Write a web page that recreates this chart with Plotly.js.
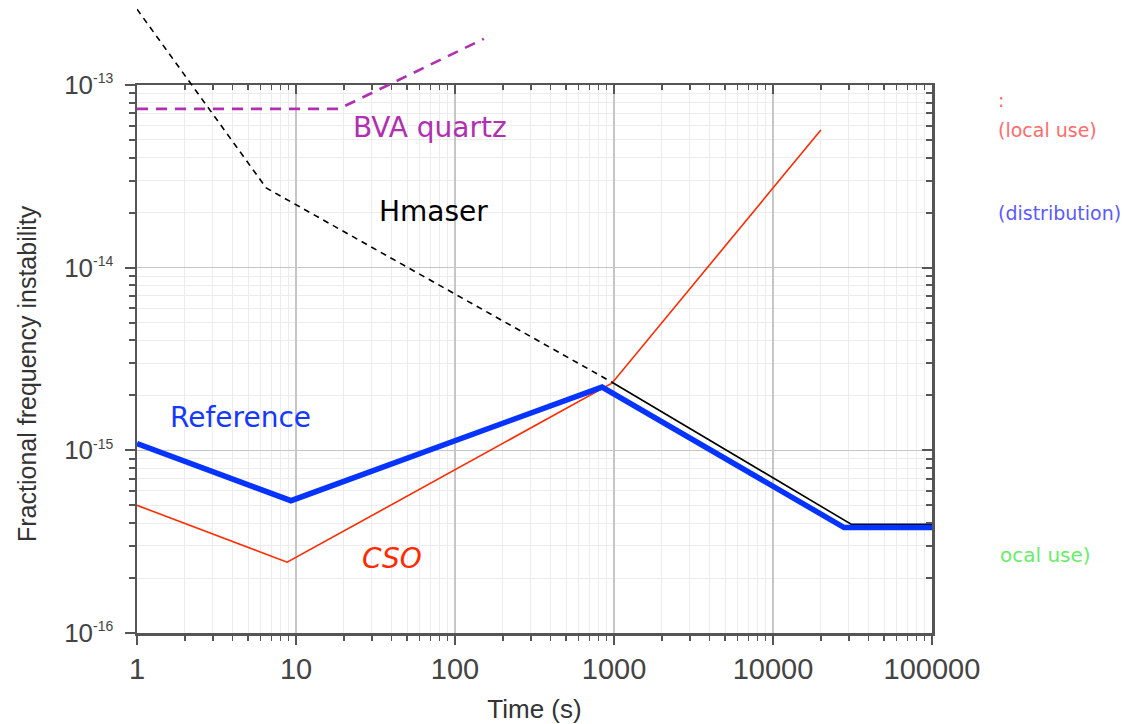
<!DOCTYPE html>
<html><head><meta charset="utf-8">
<script src="https://cdn.plot.ly/plotly-3.0.1.min.js"></script>
<style>html,body{margin:0;padding:0;background:#fff}</style>
</head><body><div id="chart" style="width:1124px;height:724px"></div>
<script>
// ---- data ----
const refTime = [1, 9.3, 841, 28000, 100000];
const refValue = [1.09e-15, 5.3e-16, 2.22e-15, 3.78e-16, 3.78e-16];
const csoTime = [1, 8.8, 971, 20000];
const csoValue = [5.0e-16, 2.44e-16, 2.33e-15, 5.67e-14];
const hmaserDashTime = [1, 6.5, 971];
const hmaserDashValue = [2.6e-13, 2.73e-14, 2.36e-15];
const hmaserSolidTime = [971, 31000, 100000];
const hmaserSolidValue = [2.36e-15, 3.94e-16, 3.94e-16];
const bvaTime = [1, 18.6, 152];
const bvaValue = [7.4e-14, 7.4e-14, 1.79e-13];

const xTickVals = [1, 10, 100, 1000, 10000, 100000];
const xTickText = ['1', '10', '100', '1000', '10000', '100000'];
const yTickVals = [1e-16, 1e-15, 1e-14, 1e-13];
const yTickExp = ['-16', '-15', '-14', '-13'];

// ---- axis helpers ----
const xMinor = [];
for (let d = 0; d < 5; d++) for (let m = 2; m <= 9; m++) xMinor.push(m * Math.pow(10, d));
const yMinor = [];
for (let d = -16; d < -13; d++) for (let m = 2; m <= 9; m++) yMinor.push(m * Math.pow(10, d));
const yTickText = yTickExp.map(e => '10<sup><span style="font-size:14px">' + e + '</span></sup>');

const axisGray = '#555';
const sans = 'Liberation Sans, Arial, sans-serif';
const labelFont = 'DejaVu Sans, sans-serif';

const pxPerDecade = 548 / 3;
const yTopExtended = -16 + 633 / pxPerDecade;

const traces = [
  {x: csoTime, y: csoValue, xaxis: 'x', yaxis: 'y', mode: 'lines',
   line: {color: '#ff2a00', width: 1.6}, hoverinfo: 'skip'},
  {x: hmaserSolidTime, y: hmaserSolidValue, xaxis: 'x', yaxis: 'y', mode: 'lines',
   line: {color: '#000', width: 1.6}, hoverinfo: 'skip'},
  {x: refTime, y: refValue, xaxis: 'x', yaxis: 'y', mode: 'lines',
   line: {color: '#0533ff', width: 5.5}, hoverinfo: 'skip'},
  {x: [], y: [], xaxis: 'x3', yaxis: 'y', mode: 'lines', hoverinfo: 'skip'},
  {x: [], y: [], xaxis: 'x', yaxis: 'y2', mode: 'lines', hoverinfo: 'skip'},
  {x: hmaserDashTime, y: hmaserDashValue, xaxis: 'x2', yaxis: 'y3', mode: 'lines',
   line: {color: '#000', width: 1.6, dash: '6px,5px'}, hoverinfo: 'skip'},
  {x: bvaTime, y: bvaValue, xaxis: 'x2', yaxis: 'y3', mode: 'lines',
   line: {color: '#b12fb1', width: 2.6, dash: '11px,8px'}, hoverinfo: 'skip'}
];

const layout = {
  width: 1124, height: 724,
  margin: {l: 137, r: 192, t: 0, b: 91},
  paper_bgcolor: '#fff', plot_bgcolor: 'rgba(0,0,0,0)',
  showlegend: false,
  xaxis: {
    type: 'log', range: [0, 5], domain: [0, 1], anchor: 'y',
    tickmode: 'array', tickvals: xTickVals, ticktext: xTickText,
    ticks: 'outside', ticklen: 9, tickwidth: 2, tickcolor: axisGray,
    showline: true, linecolor: axisGray, linewidth: 2.5,
    showgrid: true, gridcolor: '#c6c6c6', gridwidth: 1.5, zeroline: false,
    minor: {tickmode: 'array', tickvals: xMinor, ticks: 'outside', ticklen: 5, tickwidth: 1.5,
            tickcolor: axisGray, showgrid: true, gridcolor: '#ececec', gridwidth: 1},
    tickfont: {family: sans, size: 29, color: '#444'},
    title: {text: 'Time (s)', font: {family: sans, size: 26, color: '#333'}, standoff: 16}
  },
  yaxis: {
    type: 'log', range: [-16, -13], domain: [0, 548 / 633], anchor: 'x',
    tickmode: 'array', tickvals: yTickVals, ticktext: yTickText,
    ticks: 'outside', ticklen: 10, tickwidth: 2, tickcolor: axisGray,
    showline: true, linecolor: axisGray, linewidth: 2.5,
    showgrid: true, gridcolor: '#c6c6c6', gridwidth: 1.5, zeroline: false,
    minor: {tickmode: 'array', tickvals: yMinor, ticks: 'outside', ticklen: 6, tickwidth: 2,
            tickcolor: axisGray, showgrid: true, gridcolor: '#ececec', gridwidth: 1},
    tickfont: {family: sans, size: 26, color: '#444'}, ticklabelstandoff: 6
  },
  xaxis3: {
    type: 'log', range: [0, 5], overlaying: 'x', anchor: 'y', side: 'top',
    tickmode: 'array', tickvals: xTickVals, showticklabels: false,
    ticks: 'inside', ticklen: 9, tickwidth: 2, tickcolor: axisGray,
    showline: true, linecolor: axisGray, linewidth: 2.5, showgrid: false, zeroline: false,
    minor: {tickmode: 'array', tickvals: xMinor, ticks: 'inside', ticklen: 5, tickwidth: 1.5, tickcolor: axisGray, showgrid: false}
  },
  yaxis2: {
    type: 'log', range: [-16, -13], overlaying: 'y', anchor: 'x', side: 'right',
    tickmode: 'array', tickvals: yTickVals, showticklabels: false,
    ticks: 'inside', ticklen: 10, tickwidth: 2, tickcolor: axisGray,
    showline: true, linecolor: axisGray, linewidth: 2.5, showgrid: false, zeroline: false,
    minor: {tickmode: 'array', tickvals: yMinor, ticks: 'inside', ticklen: 6, tickwidth: 2, tickcolor: axisGray, showgrid: false}
  },
  xaxis2: {type: 'log', range: [0, 5], domain: [0, 1], anchor: 'y3', visible: false},
  yaxis3: {type: 'log', range: [-16, yTopExtended], domain: [0, 1], anchor: 'x2', visible: false},
  annotations: [
    {xref: 'paper', yref: 'paper', x: -0.1384, y: 0.4107, xanchor: 'center', yanchor: 'middle',
     textangle: -90, text: 'Fractional frequency instability', showarrow: false,
     font: {family: sans, size: 25, color: '#333'}},
    {xref: 'x', yref: 'y', x: 1.843, y: -13.235, text: 'BVA quartz', showarrow: false,
     xanchor: 'center', yanchor: 'middle', font: {family: labelFont, size: 28, color: '#b12fb1'}},
    {xref: 'x', yref: 'y', x: 1.862, y: -13.695, text: 'Hmaser', showarrow: false,
     xanchor: 'center', yanchor: 'middle', font: {family: labelFont, size: 28, color: '#000'}},
    {xref: 'x', yref: 'y', x: 0.648, y: -14.818, text: 'Reference', showarrow: false,
     xanchor: 'center', yanchor: 'middle', font: {family: labelFont, size: 28, color: '#1438ff'}},
    {xref: 'x', yref: 'y', x: 1.604, y: -15.59, text: '<i>CSO</i>', showarrow: false,
     xanchor: 'center', yanchor: 'middle', font: {family: labelFont, size: 28, color: '#ff2a00'}},
    {xref: 'paper', yref: 'paper', x: 1.0805, y: 0.842, xanchor: 'left', yanchor: 'middle', text: ':', showarrow: false,
     font: {family: labelFont, size: 19, color: '#ff6a6a'}},
    {xref: 'paper', yref: 'paper', x: 1.0805, y: 0.795, xanchor: 'left', yanchor: 'middle', text: '(local use)', showarrow: false,
     font: {family: labelFont, size: 19, color: '#ff6a6a'}},
    {xref: 'paper', yref: 'paper', x: 1.0805, y: 0.6635, xanchor: 'left', yanchor: 'middle', text: '(distribution)', showarrow: false,
     font: {family: labelFont, size: 19, color: '#5a5aff'}},
    {xref: 'paper', yref: 'paper', x: 1.083, y: 0.1232, xanchor: 'left', yanchor: 'middle', text: 'ocal use)', showarrow: false,
     font: {family: labelFont, size: 20, color: '#66ee66'}}
  ]
};

Plotly.newPlot('chart', traces, layout, {displayModeBar: false, staticPlot: true});
</script></body></html>
